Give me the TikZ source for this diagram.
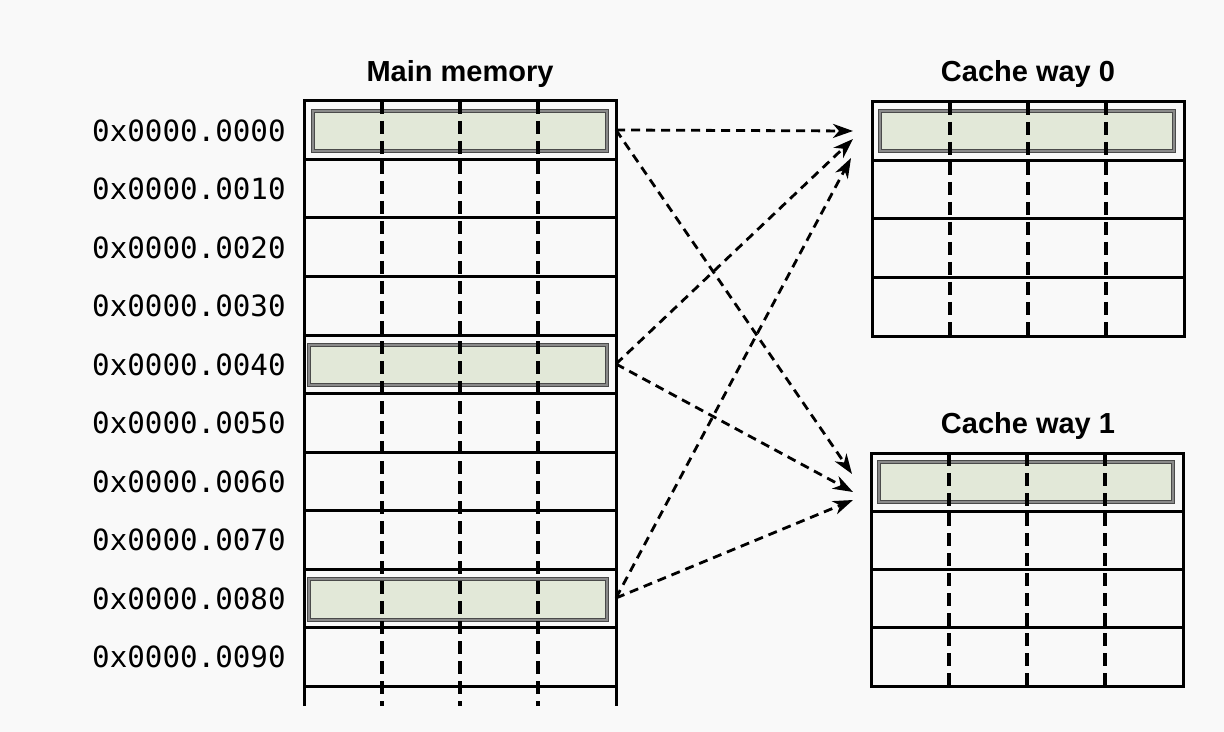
\documentclass[tikz,border=0pt]{standalone}
\usepackage{fontspec}
\setmainfont{Liberation Sans}
\newfontfamily\monof{DejaVu Sans Mono}
\usetikzlibrary{arrows.meta}
\definecolor{bg}{HTML}{F9F9F9}
\definecolor{barfill}{HTML}{E2E8D8}
\definecolor{bardark}{HTML}{4A4A4A}
\definecolor{barlight}{HTML}{8A8A8A}
\begin{document}
\begin{tikzpicture}[x=0.5pt,y=-0.5pt,
  grid/.style={line width=1.5pt, black},
  divline/.style={line width=1.7pt, black, dash pattern=on 6.5pt off 3.5pt},
  conn/.style={line width=1.4pt, black, dash pattern=on 4.5pt off 3pt,
    -{Stealth[length=10pt,width=7pt,inset=3pt]}},
  addr/.style={font=\monof\fontsize{14.6pt}{16pt}\selectfont, anchor=base east, inner sep=0pt},
  ttl/.style={font=\bfseries\fontsize{14.5pt}{16pt}\selectfont, anchor=base, inner sep=0pt},
  bar/.style={draw=bardark, fill=barfill, line width=1.8pt, inner sep=0pt,
    postaction={draw=barlight, line width=0.6pt}}
]
\path[fill=bg] (0,0) rectangle (1224,732);

% titles
\node[ttl] (tmem) at (460,82) {Main memory};
\node[ttl] (tc0) at (1028,82) {Cache way 0};
\node[ttl] (tc1) at (1028,433) {Cache way 1};

% address labels
\foreach \i/\t in {0/0000,1/0010,2/0020,3/0030,4/0040,5/0050,6/0060,7/0070,8/0080,9/0090}
  \node[addr] (l\i) at (286,{141.25+58.5*\i}) {0x0000.\t};

% highlighted bars
\node[bar, minimum width=147pt, minimum height=20pt] (m0) at (460,131) {};
\node[bar, minimum width=149pt, minimum height=20pt] (m4) at (458,365) {};
\node[bar, minimum width=149pt, minimum height=20.5pt] (m8) at (458,599.5) {};
\node[bar, minimum width=147pt, minimum height=20pt] (c0) at (1027,131) {};
\node[bar, minimum width=147pt, minimum height=20pt] (c1) at (1026,482) {};

% main memory grid
\draw[grid] (304,706) -- (304,101) -- (616,101) -- (616,706);
\foreach \i in {1,...,10}
  \draw[grid] (304,{101+58.5*\i}) -- (616,{101+58.5*\i});
\foreach \x in {382,460,538}
  \draw[divline] (\x,101) -- (\x,706);

% cache way 0
\draw[grid] (872,102) rectangle (1184,336);
\foreach \i in {1,2,3}
  \draw[grid] (872,{102+58.5*\i}) -- (1184,{102+58.5*\i});
\foreach \x in {950,1028,1106}
  \draw[divline] (\x,102) -- (\x,336);

% cache way 1
\draw[grid] (871,453) rectangle (1183,686);
\foreach \i in {1,2,3}
  \draw[grid] (871,{453+58.3*\i}) -- (1183,{453+58.3*\i});
\foreach \x in {949,1027,1105}
  \draw[divline] (\x,453) -- (\x,686);

% connector endpoints
\coordinate (s0) at (616,130);
\coordinate (s4) at (616,364);
\coordinate (s8) at (616,598);
\coordinate (e00) at (853,131);
\coordinate (e40) at (853,139);
\coordinate (e80) at (851,158);
\coordinate (e01) at (852,474);
\coordinate (e41) at (853,492);
\coordinate (e81) at (853,500);

\draw[conn] (s0) -- (e00);
\draw[conn] (s0) -- (e01);
\draw[conn] (s4) -- (e40);
\draw[conn] (s4) -- (e41);
\draw[conn] (s8) -- (e80);
\draw[conn] (s8) -- (e81);
\end{tikzpicture}
\end{document}
